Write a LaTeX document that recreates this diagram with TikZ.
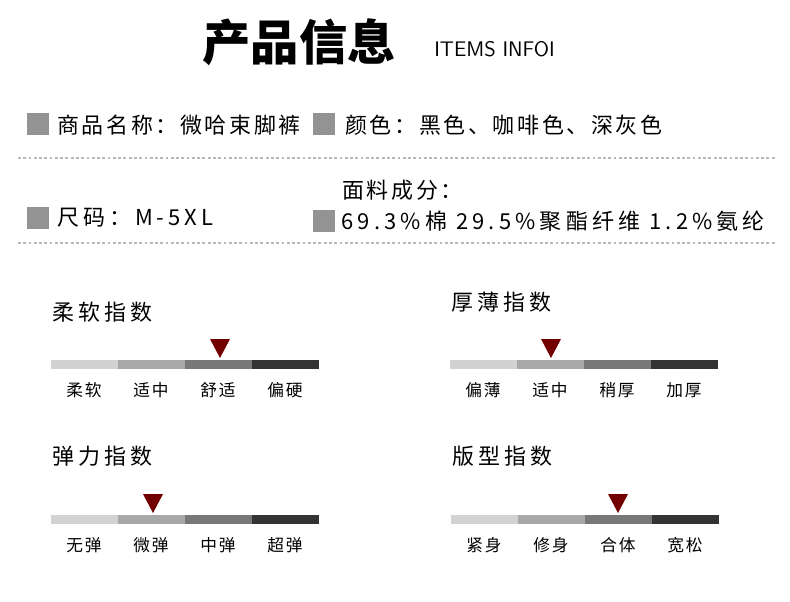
\documentclass[tikz,border=0pt]{standalone}
\usepackage{fontspec}
\setmainfont{Noto Sans CJK SC}
\usetikzlibrary{positioning}
\tikzset{
	box/.style={fill=gray!85!white,draw=none},
	txt/.style={anchor=west,inner sep=0pt,font=\fontsize{12.5}{14}\selectfont\addfontfeatures{LetterSpace=12}},
	ttl/.style={anchor=west,inner sep=0pt,font=\fontsize{12.5}{14}\selectfont\addfontfeatures{LetterSpace=18}},
	lbl/.style={inner sep=0pt,font=\fontsize{9.5}{11}\selectfont\addfontfeatures{LetterSpace=10}},
	pointer/.style={fill=red!45!black,draw=none},
	dots/.style={gray!55,line width=1.6pt,dash pattern=on 1.6pt off 1.4pt}
}
\definecolor{segA}{HTML}{D2D2D2}
\definecolor{segB}{HTML}{A8A8A8}
\definecolor{segC}{HTML}{787878}
\definecolor{segD}{HTML}{333333}
\begin{document}
\begin{tikzpicture}[x=0.02cm,y=-0.02cm]
	\useasboundingbox (0,0) rectangle (790,601);
	
	%TITLE
	\node[inner sep=0pt,font=\fontsize{27.5}{30}\selectfont\bfseries] (title) at (299,42) {产品信息};
	\node[anchor=west,inner sep=0pt,font=\sffamily\fontsize{12}{14}\selectfont\addfontfeatures{LetterSpace=22}] (items) at (434,49) {ITEMS INFOI};
	
	%INFO
	\fill[box] (27,113) rectangle (49,135);
	\node[txt] (name) at (57,125) {商品名称：微哈束脚裤};
	\fill[box] (313,113) rectangle (335,135);
	\node[txt] (color) at (345,125) {颜色：黑色、咖啡色、深灰色};
	\draw[dots] (18,158)--(776,158);
	\fill[box] (27,207) rectangle (49,229);
	\node[txt,font=\fontsize{12.5}{14}\selectfont\addfontfeatures{LetterSpace=18}] (size) at (57,218) {尺码：M-5XL};
	\node[txt] (fabric) at (342,190) {面料成分：};
	\fill[box] (313,210) rectangle (335,232);
	\node[txt,font=\fontsize{12.5}{14}\selectfont\addfontfeatures{LetterSpace=19}] (mix) at (341,221) {69.3\%棉 29.5\%聚酯纤维 1.2\%氨纶};
	\draw[dots] (18,243)--(776,243);
	
	%SCALES
	\foreach \x/\y/\h/\t/\m/\a/\b/\c/\d in {
		51/360/312/柔软指数/220/柔软/适中/舒适/偏硬,
		450/360/302/厚薄指数/551/偏薄/适中/稍厚/加厚,
		51/515/456/弹力指数/153/无弹/微弹/中弹/超弹,
		451/515/456/版型指数/618/紧身/修身/合体/宽松}{
		\node[ttl] at (\x+1,\h) {\t};
		\foreach \i/\s in {0/segA,1/segB,2/segC,3/segD}
			\fill[\s] (\x+67*\i,\y) rectangle (\x+67*\i+67,\y+9);
		\node[lbl] at (\x+33,\y+30) {\a};
		\node[lbl] at (\x+100,\y+30) {\b};
		\node[lbl] at (\x+167,\y+30) {\c};
		\node[lbl] at (\x+234,\y+30) {\d};
		\fill[pointer] (\m-10,\y-21)--(\m+10,\y-21)--(\m,\y-2)--cycle;
	}
\end{tikzpicture}
\end{document}
